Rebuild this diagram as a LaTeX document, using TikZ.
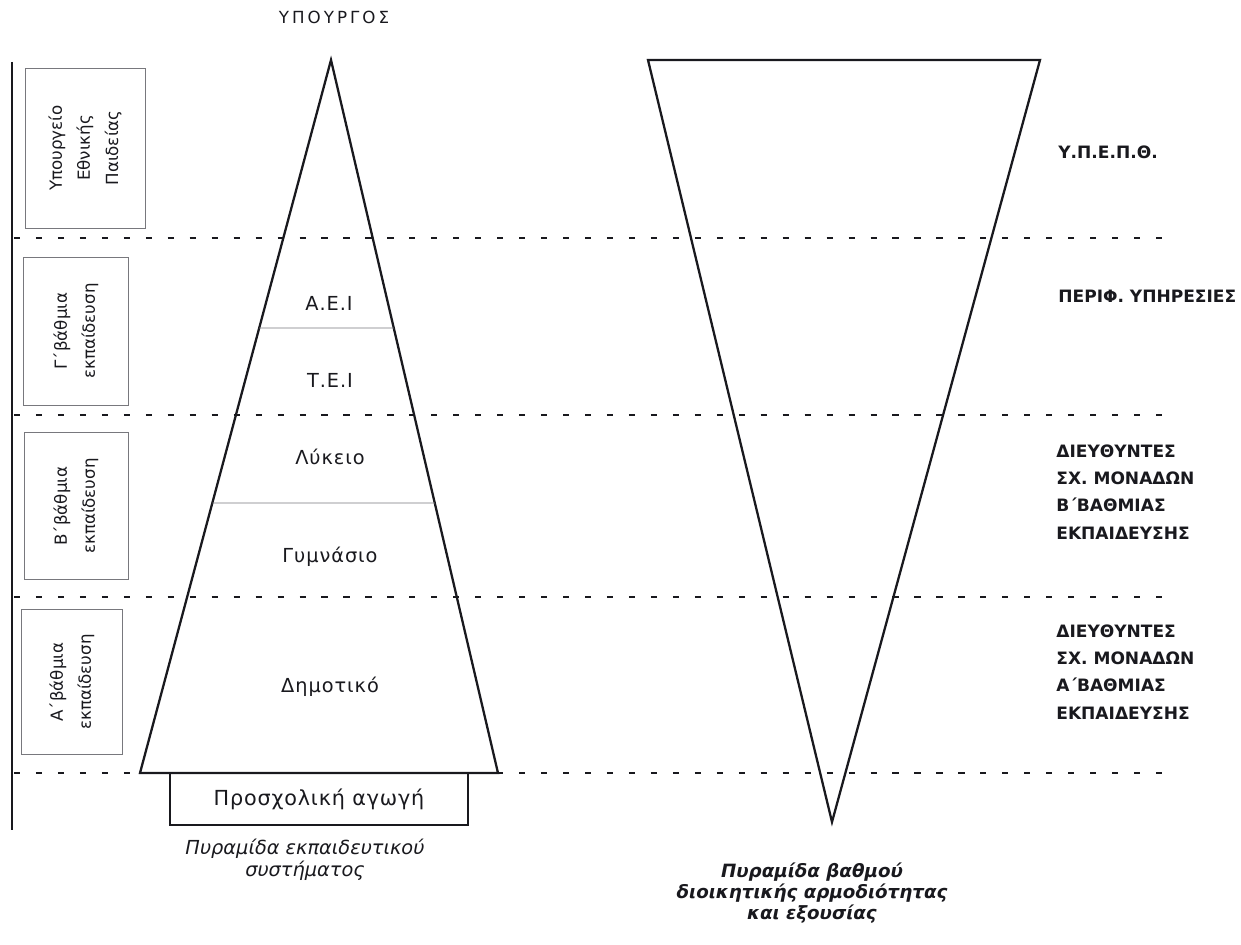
\documentclass[tikz,border=0pt]{standalone}
\usepackage{fontspec}
\setmainfont{DejaVu Sans}
\usetikzlibrary{positioning}
\definecolor{inkdark}{RGB}{25, 25, 30}
\definecolor{boxgray}{RGB}{120, 120, 125}

\begin{document}
\begin{tikzpicture}[
    x=0.02cm, y=-0.02cm,
    stage/.style={rotate=90, draw=boxgray, line width=0.5pt, align=center, font=\fontsize{9.5}{16}\selectfont, text=inkdark},
    school/.style={font=\fontsize{11}{13}\selectfont\addfontfeature{LetterSpace=5}, text=inkdark},
    office/.style={anchor=west, align=left, font=\bfseries\fontsize{9.7}{15.5}\selectfont, inner sep=0pt, text=inkdark},
    caption/.style={align=center, font=\itshape\fontsize{11}{12.5}\selectfont, text=inkdark},
    pyr/.style={line width=1.3pt, color=inkdark},
    cut/.style={line width=1.5pt, dash pattern=on 3.5pt off 9pt, color=inkdark},
    split/.style={line width=0.5pt, color=boxgray}
]
\useasboundingbox (0,0) rectangle (1241,945);

% Title on top
\node[font=\fontsize{9.5}{11}\selectfont\addfontfeature{LetterSpace=18}, text=inkdark] (minister) at (334,17) {ΥΠΟΥΡΓΟΣ};

% Left axis
\coordinate (axistop) at (12,62);
\coordinate (axisbot) at (12,830);
\draw[line width=1.5pt, color=inkdark] (axistop) -- (axisbot);

% Level boxes
\node[stage, minimum width=3.2cm, minimum height=2.4cm] (ministry) at (85,148) {Υπουργείο\\Εθνικής\\Παιδείας};
\node[stage, minimum width=2.96cm, minimum height=2.1cm] (tertiary) at (76,331) {Γ΄βάθμια\\εκπαίδευση};
\node[stage, minimum width=2.94cm, minimum height=2.08cm] (secondary) at (76,506) {Β΄βάθμια\\εκπαίδευση};
\node[stage, minimum width=2.9cm, minimum height=2.02cm] (primary) at (72,682) {Α΄βάθμια\\εκπαίδευση};

% Dashed borders between levels
\foreach \yy in {238,415,597,773}
    \draw[cut] (14,\yy) -- (1165,\yy);

% Education pyramid
\coordinate (apex) at (331,60);
\coordinate (baseL) at (140,773);
\coordinate (baseR) at (498,773);
\draw[pyr, line join=miter] (baseL) -- (apex) -- (baseR) -- cycle;

% thin splits inside
\draw[split] (intersection of apex--baseL and 0,328--1,328) -- (intersection of apex--baseR and 0,328--1,328);
\draw[split] (intersection of apex--baseL and 0,503--1,503) -- (intersection of apex--baseR and 0,503--1,503);

\node[school] (aei) at (329,303) {Α.Ε.Ι};
\node[school] (tei) at (330,380) {Τ.Ε.Ι};
\node[school] (lyceum) at (330,457) {Λύκειο};
\node[school] (gymn) at (330,557) {Γυμνάσιο};
\node[school] (dimotiko) at (330,687) {Δημοτικό};

% Pre-school box
\node[draw=inkdark, line width=1.3pt, minimum width=5.96cm, minimum height=1.04cm, school, font=\fontsize{11.8}{14}\selectfont\addfontfeature{LetterSpace=4}] (presch) at (319,799) {Προσχολική αγωγή};

% Authority pyramid (inverted)
\coordinate (topL) at (648,60);
\coordinate (topR) at (1040,60);
\coordinate (tip) at (832,822);
\draw[pyr, line join=miter] (topL) -- (topR) -- (tip) -- cycle;

% Authority labels
\node[office] (ypepth) at (1058,152) {Υ.Π.Ε.Π.Θ.};
\node[office] (perif) at (1058,296) {ΠΕΡΙΦ. ΥΠΗΡΕΣΙΕΣ};
\node[office] (dirB) at (1056,492) {ΔΙΕΥΘΥΝΤΕΣ\\ΣΧ. ΜΟΝΑΔΩΝ\\Β΄ΒΑΘΜΙΑΣ\\ΕΚΠΑΙΔΕΥΣΗΣ};
\node[office] (dirA) at (1056,672) {ΔΙΕΥΘΥΝΤΕΣ\\ΣΧ. ΜΟΝΑΔΩΝ\\Α΄ΒΑΘΜΙΑΣ\\ΕΚΠΑΙΔΕΥΣΗΣ};

% Captions
\node[caption] (cap1) at (305,860) {Πυραμίδα εκπαιδευτικού\\συστήματος};
\node[caption, font=\bfseries\itshape\fontsize{10.4}{12}\selectfont] (cap2) at (812,893) {Πυραμίδα βαθμού\\διοικητικής αρμοδιότητας\\και εξουσίας};

\end{tikzpicture}
\end{document}
